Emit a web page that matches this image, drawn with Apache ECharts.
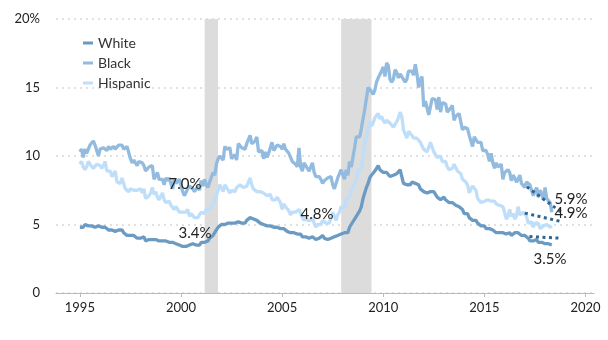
<!DOCTYPE html>
<html>
<head>
<meta charset="utf-8">
<script src="https://cdn.jsdelivr.net/npm/echarts@6/dist/echarts.min.js"></script>
<style>
html,body{margin:0;padding:0;background:#fff;}
#chart{width:608px;height:340px;}
</style>
</head>
<body>
<div id="chart"></div>
<script>
// Monthly unemployment rates, Jan 1995 - May 2018
var startYear = 1995;
var white = [
4.8,4.7,4.8,5.0,4.9,4.9,4.9,4.9,4.9,4.8,4.9,4.9,
4.9,4.8,4.8,4.8,4.7,4.6,4.7,4.6,4.6,4.5,4.6,4.6,
4.6,4.6,4.4,4.4,4.2,4.3,4.2,4.2,4.2,4.1,4.0,4.1,
4.0,4.0,4.1,3.8,3.8,3.9,3.9,3.9,3.9,3.9,3.8,3.8,
3.8,3.8,3.7,3.8,3.7,3.7,3.8,3.7,3.6,3.6,3.5,3.5,
3.5,3.4,3.5,3.4,3.5,3.5,3.6,3.6,3.5,3.5,3.5,3.5,
3.7,3.7,3.7,3.8,3.8,4.0,4.0,4.2,4.3,4.6,4.8,4.9,
5.0,5.1,5.0,5.1,5.1,5.1,5.1,5.1,5.1,5.1,5.2,5.2,
5.1,5.1,5.1,5.3,5.3,5.5,5.4,5.4,5.3,5.3,5.2,5.1,
5.0,5.0,5.1,4.9,4.9,4.9,4.9,4.8,4.8,4.8,4.8,4.7,
4.6,4.7,4.6,4.5,4.4,4.4,4.3,4.4,4.4,4.3,4.4,4.3,
4.1,4.2,4.1,4.1,4.0,4.1,4.1,4.1,3.9,3.9,4.0,3.9,
4.2,4.0,3.9,3.9,3.9,4.0,4.1,4.1,4.1,4.2,4.1,4.3,
4.4,4.4,4.5,4.4,4.8,4.9,5.2,5.4,5.5,5.8,6.0,6.3,
6.9,7.3,7.7,8.0,8.4,8.6,8.6,8.9,8.9,9.3,9.0,9.0,
8.8,8.8,8.8,8.7,8.5,8.6,8.6,8.7,8.7,8.6,9.0,8.5,
8.0,8.0,7.9,8.0,7.9,8.1,8.0,8.0,8.0,7.9,7.6,7.5,
7.4,7.3,7.3,7.4,7.4,7.4,7.4,7.2,7.0,6.9,6.8,6.9,
7.0,6.8,6.7,6.6,6.7,6.6,6.6,6.4,6.3,6.3,6.2,6.1,
5.8,5.8,5.8,5.5,5.4,5.3,5.4,5.3,5.1,5.0,4.9,4.8,
4.9,4.7,4.7,4.7,4.7,4.6,4.6,4.4,4.4,4.4,4.3,4.4,
4.3,4.3,4.3,4.4,4.2,4.3,4.4,4.3,4.4,4.3,4.2,4.3,
4.2,4.1,4.0,3.8,3.7,3.8,3.8,3.9,3.7,3.7,3.7,3.6,
3.6,3.7,3.6,3.6,3.5
];
var black = [
10.3,10.5,9.9,10.5,10.2,10.3,10.8,10.9,11.1,10.8,10.4,10.0,
10.5,10.4,10.6,10.5,10.4,10.7,10.5,10.6,10.7,10.5,10.5,10.8,
10.8,10.8,10.5,10.4,10.7,10.6,9.8,9.5,9.7,9.8,9.3,9.6,
9.6,9.5,9.3,8.9,8.9,9.2,9.2,9.3,8.3,8.3,8.8,8.3,
8.4,8.3,7.9,8.4,8.2,8.4,8.3,7.6,8.3,8.0,8.1,8.3,
8.2,7.4,7.1,7.0,7.6,7.8,7.8,7.6,7.4,7.6,7.8,7.5,
8.2,7.8,8.3,7.9,7.7,8.1,8.1,8.8,8.6,9.4,9.8,10.0,
9.9,9.7,10.7,10.5,10.4,10.6,9.8,9.7,10.1,9.7,10.9,11.0,
10.6,10.5,10.5,10.9,10.9,11.5,10.9,11.0,11.1,11.4,10.3,10.2,
10.4,9.8,10.3,9.9,10.2,10.1,11.0,10.4,10.4,10.8,10.8,10.7,
10.5,10.9,10.5,10.4,10.2,10.2,9.6,9.6,9.4,9.2,10.6,9.2,
8.9,9.5,9.3,9.4,8.9,9.0,9.5,8.8,8.5,8.6,8.5,8.3,
8.0,8.2,8.3,8.4,8.4,8.5,7.9,7.6,7.5,8.4,8.4,9.0,
9.1,8.3,9.0,8.6,9.6,9.2,9.9,10.6,11.4,11.4,11.4,12.0,
12.7,13.4,13.3,15.0,14.9,14.7,14.5,14.8,15.4,15.7,15.6,16.2,
16.5,15.8,16.8,16.6,15.6,15.4,15.6,16.3,16.1,15.7,16.0,15.8,
15.7,15.4,15.6,16.2,16.3,16.2,15.9,16.7,16.0,15.0,15.6,15.8,
13.6,14.0,14.1,13.0,13.6,14.2,14.2,14.1,13.4,14.3,13.2,13.9,
13.8,13.8,13.2,13.1,13.5,13.7,12.6,12.9,13.0,13.1,12.5,11.9,
12.1,12.1,12.0,11.5,11.5,10.7,11.4,11.2,11.0,10.9,11.0,10.4,
10.3,10.4,10.1,9.6,10.2,9.5,9.1,9.5,9.2,9.2,9.4,8.3,
8.8,8.8,9.0,8.8,8.2,8.6,8.4,8.1,8.3,8.6,8.0,7.9,
7.7,8.1,8.0,7.9,7.5,7.1,7.4,7.7,7.0,7.5,7.3,6.8,
7.7,6.9,6.9,6.6,5.9
];
var hispanic = [
9.4,9.6,9.2,9.0,9.2,9.6,9.4,9.5,9.1,9.0,9.4,9.4,
9.3,9.1,9.3,9.6,8.9,9.0,8.9,8.5,8.5,8.9,8.1,8.1,
8.0,8.4,8.0,7.6,7.6,7.4,7.6,7.6,7.5,7.5,7.5,7.4,
7.6,7.3,7.6,6.9,7.0,7.1,7.3,7.7,7.2,7.4,7.0,6.8,
6.9,7.3,6.8,6.6,6.5,6.7,6.4,6.4,6.1,6.3,6.2,5.9,
5.9,5.9,5.8,5.9,6.1,5.6,5.8,5.9,5.5,5.6,5.5,5.6,
5.9,5.9,5.8,6.1,6.0,6.1,6.3,6.3,6.7,7.1,7.5,7.9,
7.8,7.4,7.9,7.7,7.5,7.3,7.5,7.5,7.4,7.7,7.8,7.9,
7.8,7.7,7.6,7.8,8.1,8.4,7.9,7.6,7.5,7.4,7.3,7.4,
7.3,7.3,7.4,7.1,7.0,7.2,6.8,6.8,6.8,7.0,6.8,6.6,
6.1,6.5,6.3,6.3,6.0,5.7,5.9,5.8,5.9,5.9,6.1,6.0,
5.5,5.3,5.5,5.3,5.3,5.3,5.5,5.1,4.8,5.0,4.9,5.0,
5.3,5.2,5.1,5.2,5.1,5.5,5.9,5.6,5.3,5.7,5.9,6.3,
6.3,6.2,6.9,6.9,7.0,7.4,7.8,8.0,8.2,8.9,8.9,9.1,
10.0,10.9,11.4,11.4,12.5,12.2,12.4,12.8,12.7,13.1,12.7,12.9,
12.6,12.4,12.6,12.5,12.4,12.3,12.1,12.0,12.5,12.8,13.2,12.9,
11.9,11.6,11.3,11.8,11.7,11.5,11.3,11.3,11.3,11.4,11.0,11.0,
10.5,10.5,10.3,10.3,11.0,11.0,10.3,10.2,9.9,9.9,10.0,9.6,
9.7,9.6,9.2,9.0,9.1,9.1,9.4,9.3,8.9,8.9,8.7,8.3,
8.4,8.1,7.9,7.3,7.6,7.8,7.9,7.5,6.9,6.8,6.6,6.5,
6.7,6.6,6.8,6.9,6.7,6.6,6.7,6.5,6.5,6.4,6.4,6.3,
5.9,5.4,5.6,6.1,5.6,5.8,5.4,5.6,6.3,5.7,5.7,5.9,
5.9,5.6,5.1,5.2,5.2,4.8,5.1,5.2,5.1,4.7,4.8,4.9,
5.0,5.0,5.1,4.8,4.9
];
// Dotted trend segments [year, rate]
var whiteTrend = [[2017.23, 4.12], [2018.8, 4.0]];
var blackTrend = [[2017.1, 7.75], [2018.8, 5.9]];
var hispanicTrend = [[2017.0, 5.83], [2018.85, 5.2]];
// Recessions [start, end]
var recessions = [[2001.17, 2001.83], [2007.92, 2009.42]];
var xTicks = [1995, 2000, 2005, 2010, 2015, 2020];
var annotations = [
  {text: '7.0%', x: 185, y: 184},
  {text: '3.4%', x: 195, y: 233},
  {text: '4.8%', x: 317, y: 214},
  {text: '5.9%', x: 571, y: 199},
  {text: '4.9%', x: 571, y: 213},
  {text: '3.5%', x: 550, y: 259}
];

function toXY(arr) {
  return arr.map(function (v, i) { return [startYear + i / 12, v]; });
}

var FONT = 'Lato, "Open Sans", sans-serif';
var cWhite = '#6b9bc3', cBlack = '#92bbdf', cHisp = '#bedefa', cTrend = '#2f6590';

var chart = echarts.init(document.getElementById('chart'), null, {renderer: 'canvas'});
var option = {
  animation: false,
  backgroundColor: '#fff',
  textStyle: {fontFamily: FONT},
  grid: {left: 56, right: 14, top: 19, bottom: 47, containLabel: false},
  legend: {
    orient: 'vertical', left: 78, top: 31, itemGap: 6,
    itemWidth: 10, itemHeight: 3, icon: 'rect',
    textStyle: {fontFamily: FONT, fontSize: 14, color: '#333'},
    data: ['White', 'Black', 'Hispanic']
  },
  xAxis: {
    type: 'value', min: 1993.82, max: 2020.42,
    axisLine: {show: true, lineStyle: {color: '#bbb', width: 1}},
    axisTick: {show: true, length: 4, lineStyle: {color: '#bbb'}, customValues: xTicks},
    axisLabel: {customValues: xTicks, color: '#222', fontSize: 13, fontFamily: FONT, margin: 8,
      formatter: function (v) { return String(Math.round(v)); }},
    splitLine: {show: false}
  },
  yAxis: {
    type: 'value', min: 0, max: 20, interval: 5,
    axisLine: {show: false}, axisTick: {show: false},
    axisLabel: {color: '#222', fontSize: 13, fontFamily: FONT, margin: 16,
      formatter: function (v) { return v === 20 ? '20%' : String(v); }},
    splitLine: {show: true, lineStyle: {color: '#d8d8d8', type: [2, 4], width: 1.5}}
  },
  series: [
    {
      name: 'recession', type: 'line', data: [], silent: true,
      markArea: {silent: true, itemStyle: {color: '#dcdcdc'},
        data: recessions.map(function (r) { return [{xAxis: r[0], yAxis: 0}, {xAxis: r[1], yAxis: 20}]; })}
    },
    {name: 'Hispanic', type: 'line', data: toXY(hispanic), showSymbol: false, color: cHisp,
      lineStyle: {width: 3.3, color: cHisp}, z: 3},
    {name: 'Black', type: 'line', data: toXY(black), showSymbol: false, color: cBlack,
      lineStyle: {width: 3.3, color: cBlack}, z: 4},
    {name: 'White', type: 'line', data: toXY(white), showSymbol: false, color: cWhite,
      lineStyle: {width: 3.3, color: cWhite}, z: 5},
    {name: 'wt', type: 'line', data: whiteTrend, showSymbol: false, lineStyle: {width: 3, color: cTrend, type: [3, 3.5]}, z: 6},
    {name: 'bt', type: 'line', data: blackTrend, showSymbol: false, lineStyle: {width: 3, color: cTrend, type: [3, 3.5]}, z: 6},
    {name: 'ht', type: 'line', data: hispanicTrend, showSymbol: false, lineStyle: {width: 3, color: cTrend, type: [3, 3.5]}, z: 6}
  ],
  graphic: annotations.map(function (a) {
    return {type: 'text', x: a.x, y: a.y, z: 100, silent: true,
      style: {text: a.text, fill: '#222', font: '15px ' + FONT, align: 'center', verticalAlign: 'middle'}};
  })
};
chart.setOption(option);
</script>
</body>
</html>
